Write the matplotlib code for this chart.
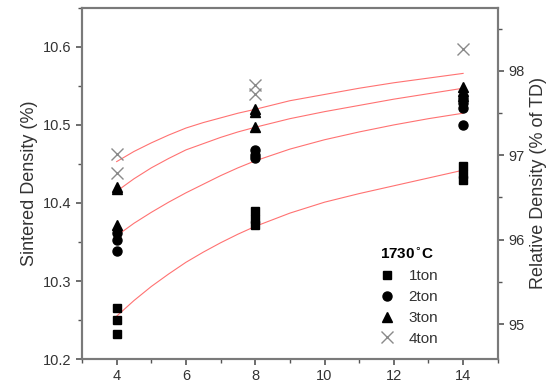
import numpy as np
import matplotlib
matplotlib.use("Agg")
import matplotlib.pyplot as plt
from matplotlib.ticker import MultipleLocator

plt.rcParams['font.family'] = ['Liberation Sans', 'DejaVu Sans']

# measured points (pressing pressure x, sintered density)
x1 = [4, 4, 4, 8, 8, 8, 14, 14, 14]
y1 = [10.265, 10.25, 10.232, 10.39, 10.38, 10.372, 10.447, 10.437, 10.43]
x2 = [4, 4, 4, 8, 8, 8, 14, 14, 14, 14]
y2 = [10.362, 10.352, 10.338, 10.468, 10.462, 10.458, 10.535, 10.528, 10.522, 10.50]
x3 = [4, 4, 4, 8, 8, 8, 14, 14, 14]
y3 = [10.42, 10.418, 10.372, 10.52, 10.516, 10.497, 10.549, 10.543, 10.537]
x4 = [4, 4, 8, 8, 14]
y4 = [10.463, 10.438, 10.551, 10.540, 10.597]

# fitted curves
fit_x = [4, 4.5, 5, 5.5, 6, 6.5, 7, 7.5, 8, 9, 10, 11, 12, 13, 14]
fit1 = [10.255, 10.275, 10.293, 10.309, 10.324, 10.337, 10.349, 10.360, 10.370,
        10.387, 10.401, 10.412, 10.422, 10.432, 10.442]
fit2 = [10.358, 10.374, 10.388, 10.401, 10.413, 10.424, 10.435, 10.445, 10.454,
        10.469, 10.481, 10.491, 10.500, 10.508, 10.515]
fit3 = [10.415, 10.431, 10.445, 10.457, 10.468, 10.476, 10.484, 10.491, 10.497,
        10.508, 10.517, 10.525, 10.533, 10.540, 10.547]
fit4 = [10.453, 10.466, 10.477, 10.487, 10.496, 10.503, 10.509, 10.515, 10.520,
        10.531, 10.539, 10.547, 10.554, 10.560, 10.566]

fig = plt.figure(figsize=(5.58, 3.92), dpi=100)
ax = fig.add_axes([0.147, 0.084, 0.745, 0.896])

red = '#ff7272'
for f in [fit1, fit2, fit3, fit4]:
    ax.plot(fit_x, f, color=red, lw=0.8)

ax.plot(x1, y1, 's', color='black', ms=6, ls='none', label='1ton')
ax.plot(x2, y2, 'o', color='black', ms=6.5, ls='none', label='2ton')
ax.plot(x3, y3, '^', color='black', ms=7, ls='none', label='3ton')
ax.plot(x4, y4, 'x', color='#8a8a8a', ms=9, mew=1.0, ls='none', label='4ton')

ax.set_xlim(3, 15)
ax.set_ylim(10.2, 10.65)
ax.xaxis.set_major_locator(MultipleLocator(2))
ax.xaxis.set_minor_locator(MultipleLocator(1))
ax.yaxis.set_major_locator(MultipleLocator(0.1))
ax.yaxis.set_minor_locator(MultipleLocator(0.05))
ax.set_ylabel('Sintered Density (%)', fontsize=13, color='#333333')

ax2 = ax.twinx()
ax2.set_ylim(94.585, 98.747)
ax2.yaxis.set_major_locator(MultipleLocator(1))
ax2.yaxis.set_minor_locator(MultipleLocator(0.5))
ax2.set_ylabel('Relative Density (% of TD)', fontsize=13, color='#333333')

for a in [ax, ax2]:
    for s in a.spines.values():
        s.set_color('#7a7a7a')
        s.set_linewidth(1.5)
    a.tick_params(which='both', direction='out', color='#555555', labelsize=10.5,
                  labelcolor='#333333')
    a.tick_params(which='major', length=4, width=1.2)
    a.tick_params(which='minor', length=3, width=1.0)

leg = ax.legend(loc='upper left', bbox_to_anchor=(0.69, 0.35), frameon=False,
                title='1730$^{\\circ}$C', fontsize=11, handlelength=1.0,
                handletextpad=0.9, labelspacing=0.45, alignment='left',
                borderpad=0.2)
leg.get_title().set_fontweight('bold')
leg.get_title().set_fontsize(11)
for t in leg.get_texts():
    t.set_color('#333333')

fig.savefig('out.png', dpi=100)
